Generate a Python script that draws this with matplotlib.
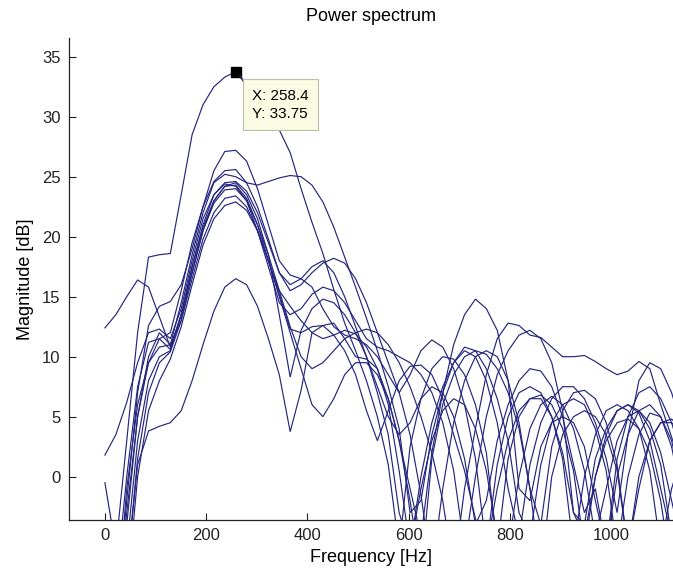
import numpy as np
import matplotlib
matplotlib.use("Agg")
import matplotlib.pyplot as plt

# frequency bins (Hz): 21.533 Hz spacing
freq_step = 21.533
n_bins = 54
frequencies = [round(k * freq_step, 2) for k in range(n_bins)]

N = -12  # value below the visible range (nulls)

curve_a = [-0.5, -6, 3, 12, 18.3, 18.5, 18.6, 23.5, 28.5, 31, 32.5, 33.3, 33.75, 32.6, 31.4, 30.2, 28.9, 27.0, 24.0, 21.2,
           18.6, 15.6, 12.8, 10.5, 8.0, 5.0, 1.0, -6, 2.5, 6.5, 9.0, 10.0, 9.8, 8.5, 6.0, 2.0, -6, 1.5, 5.0, 6.5,
           6.8, 6.0, 4.0, 0.5, -6, 0, 3.0, 4.5, 4.8, 4.0, 2.0, -2, -8, -3]
curve_b = [12.4, 13.5, 15.0, 16.4, 15.8, 13.3, 10.8, 13.5, 17.5, 20.8, 23.0, 24.2, 24.3, 23.2, 21.0, 18.0, 15.5, 14.2, 13.0, 12.0,
           11.5, 11.8, 12.2, 11.9, 10.8, 9.0, 6.5, 3.0, -2, -8, 1.5, 6.0, 8.5, 10.0, 10.5, 10.2, 9.0, 7.0, 4.0, -1,
           -8, 0, 3.5, 5.0, 5.5, 5.0, 3.5, 0.5, -6, 0, 3.0, 4.5, 4.5, 3.5]
curve_c = [N, N, -2, 7, 12.6, 14.2, 14.6, 16.0, 19.0, 22.5, 25.5, 27.1, 27.2, 26.3, 24.0, 21.0, 18.0, 16.8, 16.5, 15.8,
           14.0, 12.5, 11.8, 11.5, 11.0, 10.0, 8.5, 7.0, 8.5, 10.5, 11.4, 10.8, 9.0, 6.0, 1.5, -6, 1.0, 5.0, 7.0, 7.5,
           7.0, 5.0, 1.5, -6, 0, 3.5, 5.5, 6.0, 5.5, 4.0, 0.5, -6, -1, 2]
curve_d = [N, N, -4, 5, 9.5, 11.5, 12.0, 15.5, 19.5, 22.5, 24.6, 25.5, 25.6, 24.5, 22.5, 19.8, 17.0, 15.5, 16.0, 17.0,
           17.8, 18.2, 17.8, 16.5, 14.5, 12.0, 9.5, 7.0, 3.5, -1.5, -8, -1, 4.5, 8.0, 10.0, 10.5, 10.0, 8.0, 4.5, -1,
           -4, 2.5, 5.5, 7.0, 7.2, 6.5, 4.5, 1.0, -6, -1, 3.0, 4.5, 4.8, 4.0]
curve_e = [N, N, -1, 6, 9.5, 10.8, 11.0, 14.5, 18.5, 22.0, 24.5, 25.2, 25.0, 24.5, 24.3, 24.6, 24.9, 25.1, 25.0, 24.3,
           22.9, 20.8, 18.3, 15.8, 13.2, 10.5, 7.5, 4.0, -3, -2, 3.5, 7.0, 9.5, 10.8, 10.5, 9.0, 6.5, 3.0, -3, -5,
           1.0, 4.5, 6.0, 6.5, 6.0, 4.0, 0.5, -6, 0, 3.5, 5.3, 5.0, 3.0, -1]
curve_f = [N, -9, 0, 7.5, 11.2, 11.5, 10.6, 13.5, 17.5, 21.0, 23.5, 24.4, 24.2, 23.0, 20.5, 17.5, 14.5, 13.5, 14.0, 15.2,
           15.8, 15.5, 14.5, 13.0, 11.5, 10.8, 10.5, 10.0, 9.5, 8.5, 7.0, 4.5, 0.5, -6, 0, 5.0, 8.5, 10.5, 11.8, 12.2,
           11.5, 9.5, 5.5, -3, -4, 1.5, 4.0, 5.5, 6.0, 5.5, 4.0, 1.0, -5, -2]
curve_g = [N, N, -6, 3, 8, 10.0, 10.5, 13.5, 17.0, 20.5, 22.8, 23.9, 24.0, 23.0, 21.0, 18.5, 15.5, 12.5, 10.0, 9.0,
           9.5, 10.5, 11.5, 12.0, 12.3, 12.0, 11.0, 9.5, 7.5, 5.0, 2.0, -2, -8, -1, 4.0, 8.5, 11.5, 12.8, 12.6, 11.8,
           11.6, 10.8, 10.0, 10.0, 10.1, 9.6, 9.0, 8.5, 8.8, 9.6, 9.0, 6.0, 3.3, 0.5]
curve_h = [N, N, -8, 1.5, 7.0, 9.5, 10.4, 13.0, 16.5, 19.8, 22.0, 23.2, 23.4, 22.5, 20.5, 18.0, 15.0, 12.0, 9.0, 6.0,
           5.0, 6.5, 8.5, 9.5, 9.5, 8.5, 6.5, 3.0, -1, -5, 2.0, 7.0, 11.0, 13.5, 14.8, 14.0, 12.2, 8.0, -1, -2,
           2.5, 4.5, 5.0, 4.5, 2.5, -2, -6, 0, 3.5, 5.5, 6.0, 5.0, 2.5, -2]
curve_i = [N, N, -10, 0, 5.5, 8.0, 9.8, 12.5, 16.0, 19.3, 21.5, 22.6, 22.9, 22.2, 20.5, 18.0, 15.2, 12.3, 12.0, 12.5,
           12.6, 11.8, 10.5, 8.5, 5.5, 3.0, 5.5, 8.0, 9.2, 9.3, 8.5, 6.5, 3.5, 0.5, -3.5, -6, -1, 3.0, 5.5, 6.5,
           6.5, 5.0, 2.0, -3, -5, 0, 3.5, 5.5, 6.0, 5.3, 3.0, -1, -5, -1]
curve_j = [N, N, -8, 1.0, 3.8, 4.2, 4.5, 5.5, 8.0, 11.0, 13.8, 15.8, 16.5, 16.0, 14.2, 11.5, 8.5, 3.75, 7.2, 12.0,
           12.6, 12.8, 11.5, 10.0, 9.8, 9.0, 6.0, 0.5, -6, -1, 3.0, 5.5, 6.5, 6.0, 4.0, 0.5, -5, -6, 0, 4.0,
           6.0, 6.7, 6.0, 4.0, 0.5, -5, -1, 3.0, 5.0, 5.5, 4.5, 2.0, -2, -6]
curve_k = [-4, N, -3, 5.0, 10.0, 12.0, 11.0, 13.0, 17.0, 20.5, 23.0, 24.2, 24.5, 23.5, 21.5, 18.5, 13.5, 8.3, 12.2, 14.0,
           14.8, 14.5, 13.5, 12.0, 10.0, 7.5, 5.0, 3.5, 4.5, 6.5, 7.5, 7.0, 5.0, 1.5, -4, -2, 3.0, 6.0, 8.0, 9.0,
           8.8, 7.5, 5.0, 1.0, -3, -1, -6, 1.5, 5.0, 7.0, 7.5, 6.5, 4.5, 1.5]
curve_l = [1.8, 3.5, 6.2, 9.5, 12.0, 12.3, 11.5, 14.0, 18.0, 21.5, 23.5, 24.5, 24.6, 23.8, 22.0, 19.5, 17.0, 16.0, 16.5, 17.5,
           18.0, 17.0, 15.0, 12.5, 10.0, 7.0, 3.5, -3, -6, 0, 4.5, 7.5, 9.5, 10.5, 10.0, 8.0, 4.5, -1, -5, 1.0,
           4.5, 6.5, 7.5, 7.5, 6.5, 4.5, 1.5, -3, 3.5, 8.0, 9.5, 9.0, 7.0, 4.0]

series = [curve_a, curve_b, curve_c, curve_d, curve_e, curve_f,
          curve_g, curve_h, curve_i, curve_j, curve_k, curve_l]

tip_x = 258.4
tip_y = 33.75

x_ticks = [0, 200, 400, 600, 800, 1000]
y_ticks = [0, 5, 10, 15, 20, 25, 30, 35]

W, H = 673, 570
fig = plt.figure(figsize=(W / 100, H / 100), dpi=100)
plt.rcParams['font.family'] = ['Liberation Sans', 'DejaVu Sans']
ax = fig.add_axes([69 / W, (H - 520) / H, (W - 69) / W, 482 / H])

for s in series:
    ax.plot(frequencies, s, color='#25257f', linewidth=0.85, solid_joinstyle='miter')

ax.set_xlim(-71, 1122.5)
ax.set_ylim(-3.61, 36.56)
ax.set_xticks(x_ticks)
ax.set_yticks(y_ticks)
ax.tick_params(direction='in', length=5, width=0.8, labelsize=12, pad=6, colors='#222222')
for side in ('top', 'right'):
    ax.spines[side].set_visible(False)
for side in ('left', 'bottom'):
    ax.spines[side].set_linewidth(0.9)
    ax.spines[side].set_color('#222222')

ax.set_title('Power spectrum', fontsize=13, pad=12)
ax.set_xlabel('Frequency [Hz]', fontsize=13, labelpad=4)
ax.set_ylabel('Magnitude [dB]', fontsize=13, labelpad=6)

# data tip
ax.plot([tip_x], [tip_y], marker='s', markersize=6.5, color='black', zorder=6, clip_on=False)
ax.annotate(f"X: {tip_x}\nY: {tip_y}", xy=(tip_x, tip_y), xytext=(11.8, -12.1),
            textcoords='offset points', ha='left', va='top', fontsize=11, linespacing=1.4,
            bbox=dict(boxstyle='square,pad=0.6', facecolor='#fbfbe4', edgecolor='#bdbdaa', linewidth=0.8),
            arrowprops=dict(arrowstyle='-', color='#333333', lw=0.8, relpos=(0, 1), shrinkA=0, shrinkB=4),
            zorder=7)

fig.savefig('out.png', dpi=100)
